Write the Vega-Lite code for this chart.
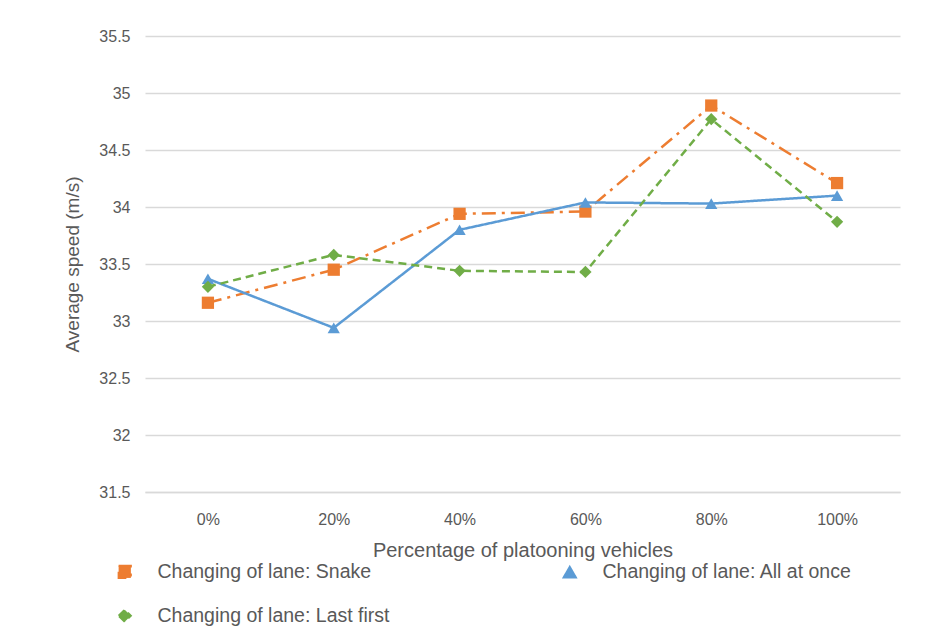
{
  "$schema": "https://vega.github.io/schema/vega-lite/v6.json",
  "width": 755,
  "height": 456,
  "autosize": {"type": "none"},
  "padding": {"left": 145, "top": 36, "right": 48, "bottom": 141},
  "background": "white",
  "config": {
    "font": "Liberation Sans",
    "view": {"stroke": null}
  },
  "data": {
    "values": [
      {"p": "0%", "s": "Changing of lane: Snake", "v": 33.16},
      {"p": "20%", "s": "Changing of lane: Snake", "v": 33.45},
      {"p": "40%", "s": "Changing of lane: Snake", "v": 33.94},
      {"p": "60%", "s": "Changing of lane: Snake", "v": 33.96},
      {"p": "80%", "s": "Changing of lane: Snake", "v": 34.89},
      {"p": "100%", "s": "Changing of lane: Snake", "v": 34.21},
      {"p": "0%", "s": "Changing of lane: All at once", "v": 33.37},
      {"p": "20%", "s": "Changing of lane: All at once", "v": 32.94},
      {"p": "40%", "s": "Changing of lane: All at once", "v": 33.8},
      {"p": "60%", "s": "Changing of lane: All at once", "v": 34.04},
      {"p": "80%", "s": "Changing of lane: All at once", "v": 34.03},
      {"p": "100%", "s": "Changing of lane: All at once", "v": 34.1},
      {"p": "0%", "s": "Changing of lane: Last first", "v": 33.3},
      {"p": "20%", "s": "Changing of lane: Last first", "v": 33.58},
      {"p": "40%", "s": "Changing of lane: Last first", "v": 33.44},
      {"p": "60%", "s": "Changing of lane: Last first", "v": 33.43},
      {"p": "80%", "s": "Changing of lane: Last first", "v": 34.77},
      {"p": "100%", "s": "Changing of lane: Last first", "v": 33.87}
    ]
  },
  "encoding": {
    "x": {
      "field": "p",
      "type": "ordinal",
      "sort": ["0%", "20%", "40%", "60%", "80%", "100%"],
      "scale": {"type": "point", "padding": 0.5},
      "axis": {
        "title": "Percentage of platooning vehicles",
        "titleFontSize": 20,
        "titleFontWeight": "normal",
        "titleColor": "#595959",
        "titleY": 58,
        "titleBaseline": "middle",
        "labelAngle": 0,
        "labelFontSize": 16,
        "labelColor": "#595959",
        "labelPadding": 19,
        "labelBaseline": "top",
        "ticks": false,
        "tickSize": 0,
        "domain": true,
        "domainColor": "#d9d9d9",
        "domainWidth": 1.5,
        "grid": false
      }
    },
    "y": {
      "field": "v",
      "type": "quantitative",
      "scale": {"domain": [31.5, 35.5], "nice": false, "zero": false},
      "axis": {
        "title": "Average speed (m/s)",
        "titleFontSize": 19,
        "titleFontWeight": "normal",
        "titleColor": "#595959",
        "titleX": -73,
        "titleY": 228,
        "titleAngle": -90,
        "titleAlign": "center",
        "titleBaseline": "middle",
        "values": [31.5, 32, 32.5, 33, 33.5, 34, 34.5, 35, 35.5],
        "format": "~g",
        "labelFontSize": 16,
        "labelColor": "#595959",
        "labelPadding": 15,
        "ticks": false,
        "tickSize": 0,
        "domain": false,
        "grid": true,
        "gridColor": "#d9d9d9",
        "gridWidth": 1.5
      }
    },
    "color": {
      "field": "s",
      "type": "nominal",
      "scale": {
        "domain": ["Changing of lane: Snake", "Changing of lane: All at once", "Changing of lane: Last first"],
        "range": ["#ED7D31", "#5B9BD5", "#70AD47"]
      },
      "legend": {
        "title": null,
        "orient": "none",
        "legendX": -30,
        "legendY": 526,
        "direction": "horizontal",
        "columns": 2,
        "columnPadding": 169,
        "rowPadding": 23,
        "labelFontSize": 19.5,
        "labelColor": "#595959",
        "labelOffset": 23,
        "labelLimit": 400,
        "symbolSize": 150,
        "symbolStrokeWidth": 2,
        "symbolDash": [1, 0],
        "symbolOpacity": 1
      }
    }
  },
  "layer": [
    {
      "mark": {"type": "line", "strokeWidth": 2.5},
      "encoding": {
        "strokeDash": {
          "field": "s",
          "type": "nominal",
          "scale": {
            "domain": ["Changing of lane: Snake", "Changing of lane: All at once", "Changing of lane: Last first"],
            "range": [[14, 6, 3, 6], [1, 0], [8, 5]]
          },
          "legend": null
        }
      }
    },
    {
      "mark": {"type": "point", "filled": true, "opacity": 1, "size": 150},
      "encoding": {
        "shape": {
          "field": "s",
          "type": "nominal",
          "scale": {
            "domain": ["Changing of lane: Snake", "Changing of lane: All at once", "Changing of lane: Last first"],
            "range": ["square", "triangle-up", "diamond"]
          },
          "legend": null
        }
      }
    }
  ]
}
